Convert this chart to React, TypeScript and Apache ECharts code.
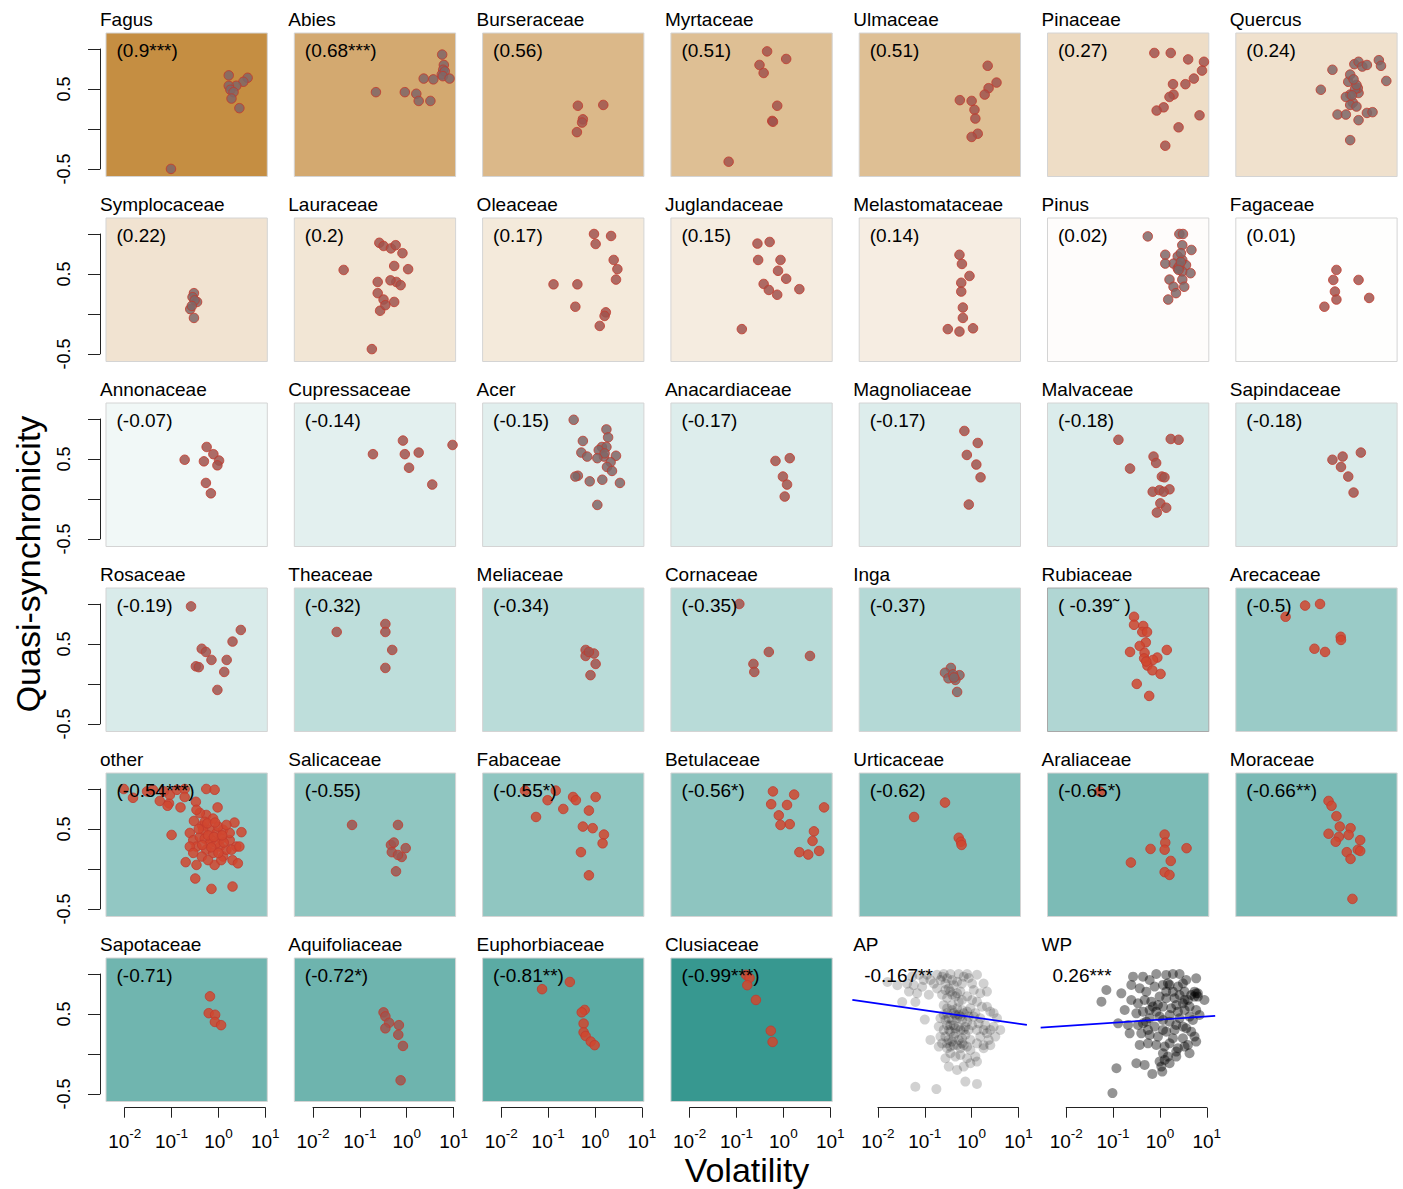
import React, { useEffect, useRef } from "react";
import * as echarts from "echarts";

// ---------- DATA ----------
const families = [
  "Fagus", "Abies", "Burseraceae", "Myrtaceae", "Ulmaceae", "Pinaceae", "Quercus",
  "Symplocaceae", "Lauraceae", "Oleaceae", "Juglandaceae", "Melastomataceae", "Pinus", "Fagaceae",
  "Annonaceae", "Cupressaceae", "Acer", "Anacardiaceae", "Magnoliaceae", "Malvaceae", "Sapindaceae",
  "Rosaceae", "Theaceae", "Meliaceae", "Cornaceae", "Inga", "Rubiaceae", "Arecaceae",
  "other", "Salicaceae", "Fabaceae", "Betulaceae", "Urticaceae", "Araliaceae", "Moraceae",
  "Sapotaceae", "Aquifoliaceae", "Euphorbiaceae", "Clusiaceae", "AP", "WP",
];

const corrLabels = [
  "(0.9***)", "(0.68***)", "(0.56)", "(0.51)", "(0.51)", "(0.27)", "(0.24)",
  "(0.22)", "(0.2)", "(0.17)", "(0.15)", "(0.14)", "(0.02)", "(0.01)",
  "(-0.07)", "(-0.14)", "(-0.15)", "(-0.17)", "(-0.17)", "(-0.18)", "(-0.18)",
  "(-0.19)", "(-0.32)", "(-0.34)", "(-0.35)", "(-0.37)", "( -0.39\u02dc )", "(-0.5)",
  "(-0.54***)", "(-0.55)", "(-0.55*)", "(-0.56*)", "(-0.62)", "(-0.65*)", "(-0.66**)",
  "(-0.71)", "(-0.72*)", "(-0.81**)", "(-0.99***)", "-0.167**", "0.26***",
];

const corrValues = [
  0.9, 0.68, 0.56, 0.51, 0.51, 0.27, 0.24,
  0.22, 0.2, 0.17, 0.15, 0.14, 0.02, 0.01,
  -0.07, -0.14, -0.15, -0.17, -0.17, -0.18, -0.18,
  -0.19, -0.32, -0.34, -0.35, -0.37, -0.39, -0.5,
  -0.54, -0.55, -0.55, -0.56, -0.62, -0.65, -0.66,
  -0.71, -0.72, -0.81, -0.99, -0.167, 0.26,
];

const xTickValues = [0.01, 0.1, 1, 10];
const yTickLabels = [-0.5, 0.5];

// [volatility, quasi-synchronicity]
const fagus = [[1.66,0.67],[4.2,0.64],[3.4,0.59],[2.4,0.54],[1.66,0.54],[1.8,0.49],[2.1,0.46],[1.9,0.38],[2.8,0.26],[0.097,-0.5]];
const abies = [[5.7,0.93],[6.2,0.8],[6.0,0.74],[5.6,0.68],[6.5,0.72],[5.9,0.66],[2.3,0.63],[3.7,0.62],[8.2,0.63],[0.22,0.46],[0.91,0.46],[1.6,0.44],[1.8,0.35],[3.2,0.35]];
const burseraceae = [[0.43,0.29],[1.5,0.3],[0.55,0.12],[0.53,0.08],[0.41,-0.04]];
const myrtaceae = [[0.45,0.97],[1.15,0.875],[0.31,0.8],[0.38,0.7],[0.74,0.29],[0.58,0.1],[0.6,0.09],[0.068,-0.41]];
const ulmaceae = [[2.2,0.79],[3.4,0.58],[2.3,0.51],[1.9,0.43],[0.56,0.36],[1.0,0.35],[1.15,0.24],[1.2,0.13],[1.35,-0.06],[1.0,-0.1]];
const pinaceae = [[0.76,0.95],[1.7,0.95],[4.0,0.87],[8.7,0.84],[7.9,0.73],[5.3,0.63],[3.5,0.56],[1.9,0.56],[1.95,0.43],[1.6,0.4],[1.2,0.27],[0.85,0.23],[7.0,0.17],[2.5,0.02],[1.3,-0.21]];
const quercus = [[0.46,0.74],[0.26,0.49],[1.0,0.59],[1.35,0.81],[1.66,0.84],[2.0,0.78],[2.5,0.8],[4.5,0.86],[5.0,0.79],[6.5,0.6],[1.1,0.43],[1.66,0.45],[1.25,0.33],[1.1,0.3],[1.5,0.28],[0.59,0.18],[0.89,0.18],[1.66,0.11],[2.5,0.2],[3.3,0.21],[1.1,-0.14],[1.6,0.51],[1.1,0.68],[0.89,0.4],[1.4,0.5],[1.5,0.55],[1.3,0.62],[1.2,0.42]];
const symplocaceae = [[0.3,0.26],[0.28,0.21],[0.35,0.15],[0.31,0.17],[0.25,0.06],[0.3,-0.05],[0.27,0.1]];
const lauraceae = [[0.26,0.89],[0.32,0.85],[0.46,0.82],[0.58,0.86],[0.81,0.76],[0.045,0.55],[0.54,0.6],[1.07,0.56],[0.24,0.4],[0.6,0.4],[0.74,0.36],[0.45,0.42],[0.24,0.26],[0.32,0.18],[0.54,0.15],[0.27,0.04],[0.35,0.11],[0.18,-0.44]];
const oleaceae = [[0.95,1.0],[2.2,0.975],[1.03,0.875],[2.5,0.675],[3.0,0.56],[2.8,0.43],[0.13,0.37],[0.42,0.37],[0.38,0.09],[1.7,0.02],[1.6,-0.025],[1.26,-0.15]];
const juglandaceae = [[0.28,0.88],[0.51,0.9],[0.29,0.675],[0.87,0.675],[0.77,0.54],[1.15,0.44],[0.38,0.375],[0.49,0.3],[2.2,0.31],[0.74,0.24],[0.13,-0.19]];
const melastomataceae = [[0.55,0.74],[0.62,0.625],[0.9,0.475],[0.6,0.39],[0.6,0.28],[0.65,0.08],[0.65,-0.05],[0.31,-0.19],[0.55,-0.22],[1.07,-0.18]];
const pinus = [[0.55,0.97],[2.6,1.0],[3.1,1.0],[3.0,0.86],[4.7,0.8],[1.3,0.74],[2.4,0.72],[3.0,0.675],[1.95,0.63],[3.6,0.61],[1.3,0.63],[3.0,0.53],[4.5,0.51],[1.6,0.43],[3.0,0.43],[1.95,0.34],[3.3,0.34],[2.2,0.26],[1.5,0.18],[2.4,0.57],[2.8,0.76],[2.6,0.6],[2.8,0.65],[2.5,0.55]];
const fagaceae = [[0.56,0.55],[0.48,0.425],[1.66,0.425],[0.52,0.28],[2.8,0.2],[0.56,0.18],[0.31,0.09]];
const annonaceae = [[0.56,0.65],[0.78,0.56],[0.19,0.49],[0.49,0.47],[1.03,0.48],[0.95,0.42],[0.54,0.2],[0.69,0.07]];
const cupressaceae = [[0.83,0.73],[9.5,0.675],[0.19,0.56],[0.91,0.56],[1.8,0.58],[1.12,0.39],[3.5,0.18]];
const acer = [[0.35,0.99],[1.75,0.87],[1.9,0.77],[0.55,0.725],[1.4,0.65],[1.75,0.65],[1.2,0.61],[0.51,0.58],[0.68,0.53],[1.55,0.53],[2.8,0.54],[2.15,0.46],[1.8,0.4],[2.3,0.35],[0.43,0.29],[0.38,0.28],[0.77,0.22],[1.43,0.24],[3.4,0.2],[1.12,-0.075],[1.6,0.57],[1.12,0.51]];
const anacardiaceae = [[1.37,0.51],[0.68,0.475],[0.98,0.28],[1.2,0.18],[1.07,0.03]];
const magnoliaceae = [[0.7,0.85],[1.35,0.7],[0.79,0.55],[1.26,0.43],[1.55,0.27],[0.87,-0.07]];
const malvaceae = [[0.13,0.74],[1.7,0.75],[2.5,0.74],[0.73,0.53],[0.83,0.45],[0.23,0.38],[1.1,0.28],[1.25,0.27],[0.7,0.09],[0.98,0.11],[1.6,0.12],[1.2,0.09],[1.02,-0.055],[1.36,-0.11],[0.86,-0.17]];
const sapindaceae = [[1.86,0.58],[0.46,0.49],[0.76,0.53],[0.7,0.4],[1.0,0.28],[1.3,0.08]];
const rosaceae = [[0.26,0.97],[3.0,0.675],[2.0,0.53],[0.44,0.44],[0.54,0.4],[0.71,0.3],[1.5,0.3],[0.33,0.22],[0.38,0.21],[1.33,0.15],[0.95,-0.075]];
const theaceae = [[0.032,0.65],[0.35,0.75],[0.35,0.65],[0.49,0.425],[0.35,0.2]];
const meliaceae = [[0.63,0.425],[0.95,0.38],[0.63,0.35],[0.74,0.4],[1.03,0.25],[0.8,0.11]];
const cornaceae = [[0.115,1.0],[0.49,0.4],[3.7,0.35],[0.23,0.25],[0.24,0.15]];
const inga = [[0.36,0.2],[0.27,0.14],[0.55,0.11],[0.41,0.09],[0.32,0.07],[0.45,0.05],[0.49,-0.1],[0.4,0.12],[0.42,0.08]];
const rubiaceae = [[0.28,0.84],[0.28,0.74],[0.44,0.725],[0.42,0.65],[0.53,0.65],[0.5,0.52],[0.37,0.475],[0.23,0.4],[0.47,0.39],[1.4,0.425],[0.46,0.32],[0.88,0.33],[0.71,0.3],[0.54,0.23],[0.69,0.17],[1.03,0.125],[0.32,0.0],[0.59,-0.15],[0.51,0.28]];
const arecaceae = [[0.12,0.98],[0.25,1.0],[0.046,0.84],[0.69,0.59],[0.7,0.55],[0.19,0.44],[0.32,0.4]];
const other = [[0.0095,1.0],[0.015,0.89],[0.03,0.97],[0.04,0.99],[0.056,0.85],[0.088,0.82],[0.082,0.79],[0.069,0.97],[0.092,0.925],[0.13,0.99],[0.19,1.0],[0.19,0.9],[0.155,0.77],[0.55,1.0],[0.83,0.99],[0.96,0.77],[0.33,0.84],[0.3,0.6],[0.55,0.675],[0.45,0.54],[2.2,0.58],[3.1,0.46],[2.4,0.28],[0.1,0.425],[0.245,0.45],[0.29,0.36],[0.34,0.28],[0.4,0.4],[0.65,0.49],[0.91,0.45],[1.26,0.49],[1.74,0.36],[1.07,0.28],[0.55,0.24],[0.77,0.2],[1.26,0.155],[2.0,0.11],[2.6,0.07],[0.2,0.085],[0.34,0.05],[0.83,0.05],[0.32,-0.12],[0.71,-0.25],[2.0,-0.22],[0.51,0.38],[0.71,0.36],[1.15,0.38],[1.48,0.24],[0.44,0.155],[0.6,0.11],[1.74,0.45],[0.245,0.28],[0.4,0.7],[0.34,0.74],[0.51,0.59],[0.99,0.53],[1.48,0.55],[0.65,0.32],[0.91,0.32],[0.47,0.49],[1.9,0.24],[1.15,0.11],[0.29,0.2],[0.77,0.63],[2.8,0.28],[0.6,0.42],[0.8,0.4],[0.7,0.27],[1.0,0.2],[0.45,0.3],[1.3,0.33],[0.58,0.57],[0.85,0.58],[1.2,0.42],[0.38,0.5]];
const salicaceae = [[0.068,0.55],[0.65,0.55],[0.46,0.3],[0.53,0.33],[0.95,0.26],[0.48,0.21],[0.78,0.15],[0.65,0.175],[0.59,-0.03]];
const fabaceae = [[0.032,0.98],[0.145,0.98],[0.097,0.86],[0.34,0.9],[0.39,0.86],[1.03,0.9],[0.21,0.75],[0.74,0.73],[0.055,0.65],[0.55,0.53],[0.89,0.51],[1.55,0.43],[1.45,0.32],[0.5,0.21],[0.74,-0.08]];
const betulaceae = [[0.6,0.97],[1.7,0.93],[0.55,0.81],[1.2,0.8],[7.4,0.77],[0.8,0.67],[1.37,0.56],[0.87,0.55],[4.5,0.47],[4.2,0.35],[2.2,0.21],[3.4,0.18],[5.8,0.225]];
const urticaceae = [[0.27,0.83],[0.059,0.65],[0.53,0.39],[0.59,0.34],[0.61,0.3]];
const araliaceae = [[0.052,0.97],[1.26,0.43],[1.3,0.33],[0.63,0.25],[1.26,0.24],[3.7,0.26],[0.24,0.08],[1.7,0.1],[1.26,-0.04],[1.6,-0.075]];
const moraceae = [[0.38,0.85],[0.44,0.79],[0.56,0.66],[0.66,0.53],[1.12,0.51],[0.38,0.44],[0.63,0.4],[1.02,0.425],[1.8,0.36],[0.54,0.34],[1.6,0.24],[0.93,0.21],[1.8,0.225],[1.12,0.125],[1.23,-0.375]];
const sapotaceae = [[0.66,0.72],[0.62,0.51],[0.85,0.49],[0.84,0.4],[1.14,0.36]];
const aquifoliaceae = [[0.32,0.52],[0.35,0.47],[0.42,0.39],[0.35,0.32],[0.68,0.36],[0.66,0.24],[0.83,0.1],[0.74,-0.33]];
const euphorbiaceae = [[0.29,0.9],[0.074,0.81],[0.6,0.55],[0.52,0.52],[0.57,0.38],[0.57,0.27],[0.63,0.225],[0.81,0.155],[0.98,0.11]];
const clusiaceae = [[0.16,0.99],[0.19,0.95],[0.17,0.86],[0.26,0.675],[0.54,0.29],[0.59,0.15]];
const apPoints = [[0.016,0.9],[0.026,0.86],[0.042,0.88],[0.054,0.97],[0.075,0.99],[0.112,0.99],[0.132,0.925],[0.183,0.99],[0.254,1.0],[0.352,1.0],[0.53,1.0],[0.8,1.0],[1.3,0.99],[1.8,0.88],[0.046,0.78],[0.069,0.76],[0.122,0.74],[0.033,0.65],[0.063,0.65],[0.1,0.43],[0.216,0.925],[0.276,0.88],[0.325,0.82],[0.415,0.86],[0.624,0.88],[0.865,0.95],[1.11,0.8],[1.53,0.76],[2.12,0.78],[0.183,0.82],[0.234,0.74],[0.3,0.7],[0.383,0.74],[0.489,0.76],[0.624,0.675],[0.8,0.72],[1.02,0.675],[1.3,0.654],[1.66,0.59],[2.12,0.59],[2.5,0.53],[2.94,0.51],[3.47,0.446],[4.08,0.3],[2.94,0.34],[3.2,0.217],[2.5,0.11],[2.3,0.175],[1.8,0.3],[1.41,0.383],[1.11,0.467],[0.8,0.53],[0.624,0.55],[0.489,0.57],[0.383,0.55],[0.3,0.51],[0.254,0.61],[0.216,0.446],[0.199,0.342],[0.254,0.3],[0.3,0.36],[0.383,0.425],[0.489,0.446],[0.624,0.425],[0.8,0.404],[1.02,0.36],[1.3,0.3],[1.53,0.217],[1.8,0.11],[1.3,0.133],[0.94,0.175],[0.735,0.24],[0.575,0.3],[0.45,0.32],[0.352,0.28],[0.276,0.217],[0.234,0.133],[0.3,0.071],[0.415,0.11],[0.53,0.175],[0.678,0.11],[0.94,0.05],[1.2,-0.033],[0.8,-0.054],[0.575,-0.0125],[0.45,-0.033],[0.352,0.008],[0.276,-0.054],[0.325,-0.158],[0.489,-0.2],[0.678,-0.158],[0.94,-0.117],[1.3,-0.096],[0.735,-0.346],[1.3,-0.375],[0.063,-0.41],[0.177,-0.44],[1.8,0.071],[2.5,0.3],[0.216,0.217],[0.199,0.092],[0.132,0.175],[0.415,0.51],[0.53,0.49],[0.678,0.51],[0.325,0.175],[0.415,0.217],[0.575,0.071],[0.735,0.34],[0.352,0.092],[0.276,0.425],[0.45,0.26],[0.865,0.3],[0.624,0.196],[0.383,0.61],[0.53,0.654],[0.3,0.57],[0.352,0.36],[0.254,0.49],[0.234,0.967],[0.3,0.946],[0.383,0.925],[0.489,0.904],[0.276,0.8],[0.352,0.78],[0.45,0.72],[0.575,0.78],[0.678,0.967],[1.02,0.88],[0.095,0.925],[0.156,0.88],[0.088,0.84],[0.058,0.86],[0.45,0.4875],[0.575,0.467],[0.325,0.446],[0.415,0.36],[0.53,0.34],[0.678,0.3],[0.325,0.3],[0.383,0.154],[0.489,0.11],[0.624,0.133],[0.8,0.092],[0.3,0.133],[0.865,0.467],[0.94,0.57],[1.2,0.51],[1.53,0.446],[1.96,0.36],[2.12,0.26]];
const wpPoints = [[0.072,0.8],[0.0565,0.654],[0.15,0.758],[0.245,0.863],[0.267,0.967],[0.435,0.967],[0.603,0.925],[0.836,1.0],[1.36,0.988],[1.89,1.0],[2.62,1.0],[3.64,0.925],[5.93,0.946],[0.37,0.821],[0.512,0.779],[0.77,0.842],[1.16,0.863],[1.61,0.863],[2.42,0.842],[3.35,0.779],[4.65,0.7375],[6.44,0.758],[8.9,0.675],[0.245,0.675],[0.34,0.633],[0.472,0.675],[0.654,0.654],[0.984,0.717],[1.36,0.696],[2.05,0.696],[3.09,0.633],[4.28,0.592],[5.93,0.55],[6.98,0.4875],[0.177,0.55],[0.314,0.508],[0.435,0.529],[0.603,0.55],[0.836,0.529],[1.16,0.592],[1.74,0.571],[2.42,0.529],[3.35,0.55],[5.04,0.425],[0.128,0.383],[0.209,0.3625],[0.34,0.3625],[0.512,0.404],[0.77,0.342],[1.16,0.425],[1.61,0.404],[2.23,0.3625],[3.09,0.342],[4.65,0.279],[0.226,0.258],[0.4,0.258],[0.603,0.2375],[0.908,0.217],[1.36,0.279],[1.89,0.196],[3.09,0.196],[5.47,0.217],[5.93,0.154],[0.37,0.1125],[0.556,0.133],[0.836,0.1125],[1.26,0.092],[1.61,0.133],[2.42,0.071],[3.35,0.092],[1.16,0.008],[1.48,-0.033],[2.23,0.029],[0.984,-0.096],[1.07,-0.158],[0.314,-0.117],[0.118,-0.179],[0.472,-0.1375],[0.687,-0.25],[1.12,-0.221],[3.95,0.1125],[4.28,0.008],[2.23,-0.033],[1.61,-0.117],[1.26,-0.075],[0.097,-0.49],[1.48,0.883],[3.09,0.883],[5.47,0.779],[6.44,0.717],[3.95,0.675],[2.62,0.7375],[1.36,0.779],[0.908,0.6125],[2.23,0.6125],[0.603,0.446],[4.28,0.467],[1.61,0.4875],[5.93,0.758],[5.47,0.717],[3.35,0.675],[1.89,0.779],[0.984,0.467],[2.62,0.446],[1.16,0.3],[0.556,0.3],[0.71,0.592],[0.435,0.383],[2.05,0.3],[3.64,0.321]];
const apFitLine = [[0.00285,0.675],[15.1,0.3625]];
const wpFitLine = [[0.00285,0.329],[15.1,0.475]];

const panelPoints = [
  fagus, abies, burseraceae, myrtaceae, ulmaceae, pinaceae, quercus,
  symplocaceae, lauraceae, oleaceae, juglandaceae, melastomataceae, pinus, fagaceae,
  annonaceae, cupressaceae, acer, anacardiaceae, magnoliaceae, malvaceae, sapindaceae,
  rosaceae, theaceae, meliaceae, cornaceae, inga, rubiaceae, arecaceae,
  other, salicaceae, fabaceae, betulaceae, urticaceae, araliaceae, moraceae,
  sapotaceae, aquifoliaceae, euphorbiaceae, clusiaceae, apPoints, wpPoints,
];

// ---------- STYLE ----------
const pointTone = [
  "T","T","M","M","M","M","T",
  "T","M","M","M","M","T","M",
  "M","M","T","M","M","M","M",
  "M","M","M","M","T","R","R",
  "R","M","R","R","R","R","R",
  "R","M","R","R","K","K",
];
const toneFill: Record<string, string> = { T: "#7F6666", M: "#A0534E", R: "#D0472F", K: "#000000" };
const FONT = "Liberation Sans, Arial, Helvetica, sans-serif";

const COL0 = 106, COLSTEP = 188.3, PW = 161.3;
const ROW0 = 33, ROWSTEP = 185, PH = 143.5;
const LOGMIN = -2.4, LOGMAX = 1.043;
const XMIN = Math.pow(10, LOGMIN), XMAX = Math.pow(10, LOGMAX);
const YMIN = -0.595, YMAX = 1.2;
const PXPERUNIT = PH / (YMAX - YMIN);
const TICK0 = 124.7, DECADE = 46.87;

function bgColor(v: number) {
  const t = Math.abs(v);
  const end = v >= 0 ? [191, 129, 45] : [53, 151, 143];
  const c = end.map((e) => Math.round(255 + (e - 255) * t));
  return `rgb(${c.join(",")})`;
}

function buildOption() {
  const grid: any[] = [];
  const xAxis: any[] = [];
  const yAxis: any[] = [];
  const series: any[] = [];
  const graphic: any[] = [];

  families.forEach((name, i) => {
    const r = Math.floor(i / 7), c = i % 7;
    const left = COL0 + c * COLSTEP, top = ROW0 + r * ROWSTEP;
    const summary = name === "AP" || name === "WP";
    const gi = grid.length;
    if (summary) {
      // wider plotting window so the fitted line reaches its drawn extent
      const fit = name === "AP" ? apFitLine : wpFitLine;
      const lo = Math.log10(fit[0][0]), hi = Math.log10(fit[1][0]);
      const tick0 = TICK0 + c * COLSTEP;
      const gl = tick0 + (lo + 2) * DECADE, gr = tick0 + (hi + 2) * DECADE;
      grid.push({ left: gl, top, width: gr - gl, height: PH, show: false });
      xAxis.push({ gridIndex: gi, type: "log", logBase: 10, min: fit[0][0], max: fit[1][0], show: false });
    } else {
      grid.push({
        left, top, width: PW, height: PH, show: true,
        backgroundColor: bgColor(corrValues[i]),
        borderColor: name === "Rubiaceae" ? "#a8a8a8" : "#d4d4d4",
        borderWidth: 1,
      });
      xAxis.push({ gridIndex: gi, type: "log", logBase: 10, min: XMIN, max: XMAX, show: false });
    }
    yAxis.push({ gridIndex: gi, type: "value", min: YMIN, max: YMAX, show: false });
    const tone = pointTone[i];
    series.push({
      type: "scatter", xAxisIndex: gi, yAxisIndex: gi, silent: true,
      data: panelPoints[i],
      symbolSize: summary ? 10 : 9.5,
      itemStyle: summary
        ? { color: "#000", opacity: name === "AP" ? 0.18 : 0.42, borderWidth: 0 }
        : { color: toneFill[tone], opacity: 0.85, borderColor: "#C23B2E", borderWidth: 1 },
    });
    if (summary) {
      series.push({
        type: "line", xAxisIndex: gi, yAxisIndex: gi, silent: true, clip: false,
        data: name === "AP" ? apFitLine : wpFitLine,
        symbol: "none", z: 5,
        lineStyle: { color: "#0000FF", width: 1.8 },
      });
    }
    graphic.push({
      type: "text", x: left - 6, y: top - 13.3, silent: true,
      style: { text: name, fontSize: 19, fontFamily: FONT, fill: "#000",
        align: "left", verticalAlign: "middle", textAlign: "left", textVerticalAlign: "middle" },
    });
    graphic.push({
      type: "text", x: left + (summary ? 5 : 10.5), y: top + 17, silent: true, z: 10,
      style: { text: corrLabels[i], fontSize: 19, fontFamily: FONT, fill: "#000",
        align: "left", verticalAlign: "middle", textAlign: "left", textVerticalAlign: "middle" },
    });
  });

  // y axes (left column, each row)
  for (let r = 0; r < 6; r++) {
    const gi = grid.length;
    const top = ROW0 + r * ROWSTEP + (YMAX - 1) * PXPERUNIT;
    grid.push({ left: 100, top, width: 1, height: 1.5 * PXPERUNIT, show: false });
    xAxis.push({ gridIndex: gi, type: "value", min: 0, max: 1, show: false });
    yAxis.push({
      gridIndex: gi, type: "value", min: -0.5, max: 1, interval: 0.5, position: "left",
      axisLine: { show: true, onZero: false, lineStyle: { color: "#222", width: 1 } },
      axisTick: { show: true, length: 12, lineStyle: { color: "#222", width: 1 } },
      splitLine: { show: false },
      axisLabel: {
        show: true, rotate: 90, margin: 27, fontSize: 18, fontFamily: FONT, color: "#000",
        formatter: (v: number) => (yTickLabels.some((t) => Math.abs(t - v) < 1e-9) ? String(v) : ""),
      },
    });
  }

  // x axes (bottom row, six columns)
  for (let c = 0; c < 6; c++) {
    const gi = grid.length;
    grid.push({ left: TICK0 + c * COLSTEP, top: 1106.7, width: 3 * DECADE, height: 1, show: false });
    yAxis.push({ gridIndex: gi, type: "value", min: 0, max: 1, show: false });
    xAxis.push({
      gridIndex: gi, type: "log", logBase: 10, min: xTickValues[0], max: xTickValues[xTickValues.length - 1],
      position: "bottom",
      axisLine: { show: true, onZero: false, lineStyle: { color: "#222", width: 1 } },
      axisTick: { show: true, length: 10, lineStyle: { color: "#222", width: 1 } },
      splitLine: { show: false },
      axisLabel: {
        show: true, margin: 19, color: "#000", fontFamily: FONT,
        formatter: (v: number) => `{b|10}{s|${Math.round(Math.log10(v))}}`,
        rich: {
          b: { fontSize: 19, fontFamily: FONT, color: "#000", lineHeight: 24, verticalAlign: "bottom" },
          s: { fontSize: 13.5, fontFamily: FONT, color: "#000", lineHeight: 14, verticalAlign: "top" },
        },
      },
    });
  }

  graphic.push({
    type: "text", x: 747, y: 1170, silent: true,
    style: { text: "Volatility", fontSize: 34, fontFamily: FONT, fill: "#000",
      align: "center", verticalAlign: "middle", textAlign: "center", textVerticalAlign: "middle" },
  });
  graphic.push({
    type: "text", x: 28, y: 564, rotation: Math.PI / 2, silent: true,
    style: { text: "Quasi-synchronicity", fontSize: 34, fontFamily: FONT, fill: "#000",
      align: "center", verticalAlign: "middle", textAlign: "center", textVerticalAlign: "middle" },
  });

  return {
    animation: false,
    backgroundColor: "#ffffff",
    textStyle: { fontFamily: FONT },
    grid, xAxis, yAxis, series, graphic,
  };
}

export default function App() {
  const ref = useRef<HTMLDivElement>(null);
  useEffect(() => {
    if (!ref.current) return;
    const chart = echarts.init(ref.current, undefined, { renderer: "svg" });
    chart.setOption(buildOption() as any);
    return () => chart.dispose();
  }, []);
  return (
    <div
      ref={ref}
      style={{ position: "absolute", left: 0, top: 0, width: 1403, height: 1189, background: "#fff" }}
    />
  );
}
